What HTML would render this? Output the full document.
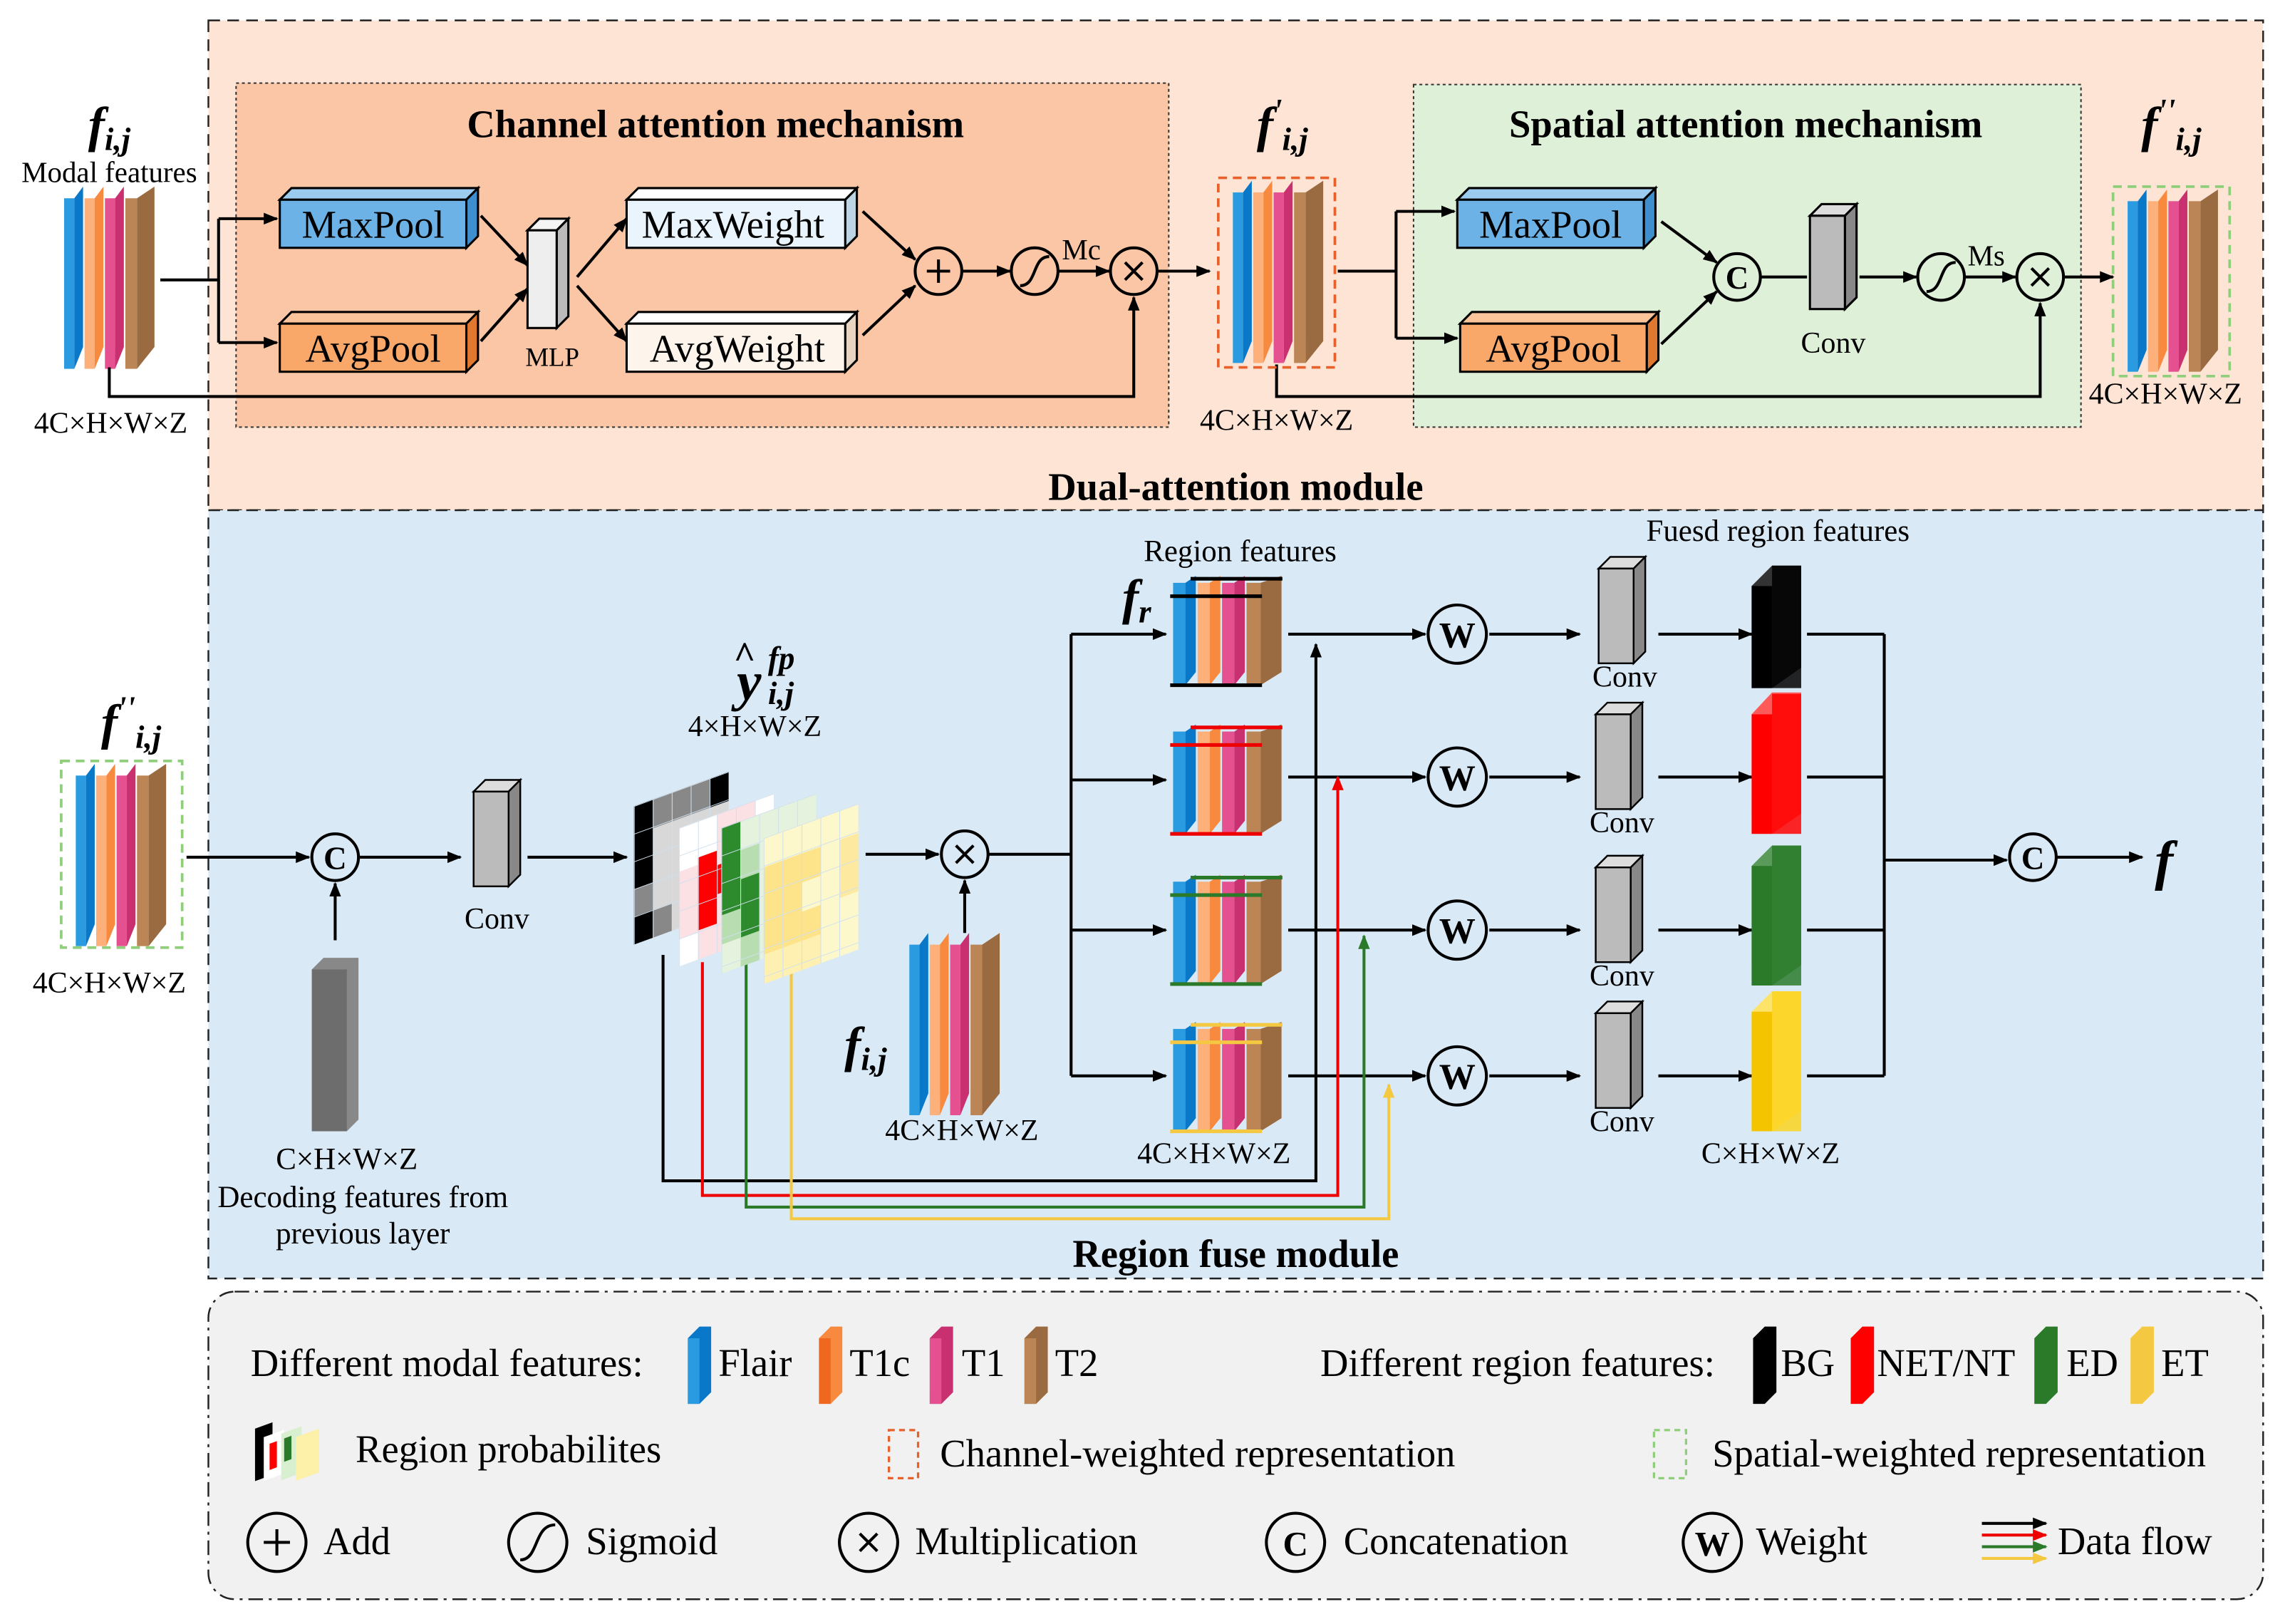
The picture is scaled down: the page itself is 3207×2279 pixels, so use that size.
<!DOCTYPE html>
<html><head><meta charset="utf-8"><style>
html,body{margin:0;padding:0;background:#fff}
svg{display:block}
text{font-family:"Liberation Serif",serif;fill:#000}
.b{font-weight:bold}
.bi{font-weight:bold;font-style:italic}
</style></head><body>
<svg width="3207" height="2279" viewBox="0 0 1568 1114" preserveAspectRatio="none" xmlns="http://www.w3.org/2000/svg">
<defs>
<marker id="ak" markerWidth="10" markerHeight="8" refX="9" refY="4" orient="auto" markerUnits="userSpaceOnUse"><path d="M0,0 L10,4 L0,8 z" fill="#000"/></marker>
<marker id="ar" markerWidth="10" markerHeight="8" refX="9" refY="4" orient="auto" markerUnits="userSpaceOnUse"><path d="M0,0 L10,4 L0,8 z" fill="#e00"/></marker>
<marker id="ag" markerWidth="10" markerHeight="8" refX="9" refY="4" orient="auto" markerUnits="userSpaceOnUse"><path d="M0,0 L10,4 L0,8 z" fill="#2a7a2a"/></marker>
<marker id="ay" markerWidth="10" markerHeight="8" refX="9" refY="4" orient="auto" markerUnits="userSpaceOnUse"><path d="M0,0 L10,4 L0,8 z" fill="#f5c842"/></marker>
<g id="stk">
 <rect x="0" y="8" width="7" height="117" fill="#2a9be0"/><polygon points="7,8 13,0 13,110 7,125" fill="#0a78c8"/>
 <rect x="14" y="8" width="7" height="117" fill="#fdb07a"/><polygon points="21,8 27,0 27,110 21,125" fill="#f88a40"/>
 <rect x="28" y="8" width="7" height="117" fill="#e45090"/><polygon points="35,8 41,0 41,110 35,125" fill="#c83070"/>
 <rect x="42" y="8" width="8" height="117" fill="#bb8555"/><polygon points="50,8 62,0 62,110 50,125" fill="#9a6a40"/>
</g>
<pattern id="gp" width="13" height="19" patternUnits="userSpaceOnUse"><path d="M0,0 H13 M0,0 V19" stroke="#cfe0ee" stroke-width="1" fill="none"/></pattern>
<g id="sig"><circle cx="0" cy="0" r="16" fill="none" stroke="#000" stroke-width="2"/><path d="M-10,10 C2,10 -2,-10 10,-10" fill="none" stroke="#000" stroke-width="2"/></g>
</defs>

<rect x="143" y="14" width="1410" height="336" fill="#fde4d4" stroke="#222" stroke-width="1.2" stroke-dasharray="8,5"/>
<rect x="162" y="57" width="640" height="236" fill="#fbc6a6" stroke="#333" stroke-dasharray="2,2"/>
<rect x="970" y="58" width="458" height="235" fill="#def0d8" stroke="#333" stroke-dasharray="2,2"/>
<rect x="143" y="350" width="1410" height="527" fill="#d9e9f6" stroke="#222" stroke-width="1.2" stroke-dasharray="8,5"/>
<rect x="143" y="886" width="1410" height="211" rx="18" fill="#f1f1f1" stroke="#222" stroke-width="1.2" stroke-dasharray="10,4,2,4"/>

<!-- TOP -->
<text x="75" y="97" font-size="34" class="bi" text-anchor="middle">f<tspan font-size="22" dy="6">i,j</tspan></text>
<text x="75" y="125" font-size="20" text-anchor="middle">Modal features</text>
<use href="#stk" x="44" y="128"/>
<text x="76" y="297" font-size="20.5" text-anchor="middle">4C×H×W×Z</text>

<g stroke="#000" stroke-width="2" fill="none">
<path d="M110,192 H150"/>
<path d="M150,150 V235"/>
<path d="M150,150 H190" marker-end="url(#ak)"/>
<path d="M150,235 H190" marker-end="url(#ak)"/>
<path d="M75,252 V272 H778 V204" marker-end="url(#ak)"/>
<path d="M330,148 L362,182" marker-end="url(#ak)"/>
<path d="M330,234 L362,198" marker-end="url(#ak)"/>
<path d="M396,190 L430,150" marker-end="url(#ak)"/>
<path d="M396,196 L430,234" marker-end="url(#ak)"/>
<path d="M592,145 L628,178" marker-end="url(#ak)"/>
<path d="M592,230 L628,196" marker-end="url(#ak)"/>
<path d="M660,186 H693" marker-end="url(#ak)"/>
<path d="M726,186 H761" marker-end="url(#ak)"/>
<path d="M794,186 H830" marker-end="url(#ak)"/>
<path d="M918,186 H958 M958,145 V232"/>
<path d="M958,145 H998" marker-end="url(#ak)"/>
<path d="M958,232 H1000" marker-end="url(#ak)"/>
<path d="M876,250 V272 H1400 V208" marker-end="url(#ak)"/>
<path d="M1140,152 L1178,180" marker-end="url(#ak)"/>
<path d="M1140,236 L1178,200" marker-end="url(#ak)"/>
<path d="M1208,190 H1240"/>
<path d="M1276,190 H1315" marker-end="url(#ak)"/>
<path d="M1348,190 H1383" marker-end="url(#ak)"/>
<path d="M1416,190 H1450" marker-end="url(#ak)"/>
</g>

<g stroke="#000" stroke-width="1.5">
<polygon points="192,137 200,129 328,129 320,137" fill="#9bcbee"/><polygon points="320,137 328,129 328,162 320,170" fill="#3f8fcf"/><rect x="192" y="137" width="128" height="33" fill="#6cb2e6"/>
<polygon points="192,222 200,214 328,214 320,222" fill="#fcc49a"/><polygon points="320,222 328,214 328,247 320,255" fill="#e07830"/><rect x="192" y="222" width="128" height="33" fill="#f9a86a"/>
<polygon points="430,137 438,129 588,129 580,137" fill="#fff"/><polygon points="580,137 588,129 588,162 580,170" fill="#bcd4e4"/><rect x="430" y="137" width="150" height="33" fill="#e9f4fc"/>
<polygon points="430,222 438,214 588,214 580,222" fill="#fff"/><polygon points="580,222 588,214 588,247 580,255" fill="#e8d4c2"/><rect x="430" y="222" width="150" height="33" fill="#fdf4ec"/>
<polygon points="362,158 370,150 390,150 382,158" fill="#f4f4f4"/><polygon points="382,158 390,150 390,217 382,225" fill="#bbb"/><rect x="362" y="158" width="20" height="67" fill="#eee"/>
<polygon points="1000,137 1008,129 1136,129 1128,137" fill="#9bcbee"/><polygon points="1128,137 1136,129 1136,162 1128,170" fill="#3f8fcf"/><rect x="1000" y="137" width="128" height="33" fill="#6cb2e6"/>
<polygon points="1002,222 1010,214 1138,214 1130,222" fill="#fcc49a"/><polygon points="1130,222 1138,214 1138,247 1130,255" fill="#e07830"/><rect x="1002" y="222" width="128" height="33" fill="#f9a86a"/>
<polygon points="1242,148 1250,140 1274,140 1266,148" fill="#ddd"/><polygon points="1266,148 1274,140 1274,204 1266,212" fill="#888"/><rect x="1242" y="148" width="24" height="64" fill="#bbb"/>
</g>
<text x="256" y="163" font-size="26.7" text-anchor="middle">MaxPool</text>
<text x="256" y="248" font-size="26.7" text-anchor="middle">AvgPool</text>
<text x="503" y="163" font-size="26.7" text-anchor="middle">MaxWeight</text>
<text x="506" y="248" font-size="26.7" text-anchor="middle">AvgWeight</text>
<text x="379" y="251" font-size="18" text-anchor="middle">MLP</text>
<text x="1064" y="163" font-size="26.7" text-anchor="middle">MaxPool</text>
<text x="1066" y="248" font-size="26.7" text-anchor="middle">AvgPool</text>
<text x="1258" y="242" font-size="20.5" text-anchor="middle">Conv</text>

<g stroke="#000" stroke-width="2" fill="none">
<circle cx="644" cy="186" r="16"/><path d="M636,186 H652 M644,178 V194"/>
<circle cx="778" cy="186" r="16"/><path d="M772,180 L784,192 M784,180 L772,192"/>
<circle cx="1400" cy="190" r="16"/><path d="M1394,184 L1406,196 M1406,184 L1394,196"/>
<circle cx="1192" cy="190" r="16"/>
</g>
<text x="1192" y="198" font-size="22" class="b" text-anchor="middle">C</text>
<use href="#sig" x="710" y="186"/>
<use href="#sig" x="1332" y="190"/>
<text x="742" y="178" font-size="20" text-anchor="middle">Mc</text>
<text x="1363" y="182" font-size="20" text-anchor="middle">Ms</text>

<text x="880" y="97" font-size="34" class="bi" text-anchor="middle">f<tspan font-size="22" dy="-14">'</tspan><tspan font-size="22" dy="20">i,j</tspan></text>
<rect x="836" y="122" width="80" height="130" fill="none" stroke="#e8602a" stroke-width="1.8" stroke-dasharray="6,4"/>
<use href="#stk" x="846" y="124"/>
<text x="876" y="295" font-size="20.5" text-anchor="middle">4C×H×W×Z</text>

<text x="1490" y="97" font-size="34" class="bi" text-anchor="middle">f<tspan font-size="22" dy="-14">''</tspan><tspan font-size="22" dy="20">i,j</tspan></text>
<rect x="1450" y="128" width="80" height="130" fill="none" stroke="#8fce7a" stroke-width="1.8" stroke-dasharray="6,4"/>
<use href="#stk" x="1460" y="130"/>
<text x="1486" y="277" font-size="20.5" text-anchor="middle">4C×H×W×Z</text>

<text x="491" y="94" font-size="26.7" class="b" text-anchor="middle">Channel attention mechanism</text>
<text x="1198" y="94" font-size="26.7" class="b" text-anchor="middle">Spatial attention mechanism</text>
<text x="848" y="343" font-size="26.7" class="b" text-anchor="middle">Dual-attention module</text>

<!-- BOTTOM -->
<text x="90" y="507" font-size="34" class="bi" text-anchor="middle">f<tspan font-size="22" dy="-14">''</tspan><tspan font-size="22" dy="20">i,j</tspan></text>
<rect x="42" y="522" width="83" height="128" fill="none" stroke="#8fce7a" stroke-width="1.8" stroke-dasharray="6,4"/>
<use href="#stk" x="52" y="524"/>
<text x="75" y="681" font-size="20.5" text-anchor="middle">4C×H×W×Z</text>

<g stroke="#000" stroke-width="2" fill="none">
<path d="M128,588 H212" marker-end="url(#ak)"/>
<path d="M230,645 V606" marker-end="url(#ak)"/>
<circle cx="230" cy="588" r="16"/>
<path d="M246,588 H316" marker-end="url(#ak)"/>
<path d="M362,588 H430" marker-end="url(#ak)"/>
<path d="M594,586 H644" marker-end="url(#ak)"/>
<circle cx="662" cy="586" r="16"/><path d="M656,580 L668,592 M668,580 L656,592"/>
<path d="M662,640 V604" marker-end="url(#ak)"/>
<path d="M678,586 H735 M735,435 V738"/>
<path d="M735,435 H800" marker-end="url(#ak)"/>
<path d="M735,535 H800" marker-end="url(#ak)"/>
<path d="M735,638 H800" marker-end="url(#ak)"/>
<path d="M735,738 H800" marker-end="url(#ak)"/>
<path d="M884,435 H978" marker-end="url(#ak)"/>
<path d="M884,533 H978" marker-end="url(#ak)"/>
<path d="M884,638 H978" marker-end="url(#ak)"/>
<path d="M884,738 H978" marker-end="url(#ak)"/>
<path d="M1022,435 H1084" marker-end="url(#ak)"/>
<path d="M1022,533 H1084" marker-end="url(#ak)"/>
<path d="M1022,638 H1084" marker-end="url(#ak)"/>
<path d="M1022,738 H1084" marker-end="url(#ak)"/>
<path d="M1138,435 H1202" marker-end="url(#ak)"/>
<path d="M1138,533 H1202" marker-end="url(#ak)"/>
<path d="M1138,638 H1202" marker-end="url(#ak)"/>
<path d="M1138,738 H1202" marker-end="url(#ak)"/>
<path d="M1240,435 H1293 M1240,533 H1293 M1240,638 H1293 M1240,738 H1293 M1293,435 V738"/>
<path d="M1293,590 H1377" marker-end="url(#ak)"/>
<circle cx="1395" cy="588" r="16"/>
<path d="M1411,588 H1470" marker-end="url(#ak)"/>
<path d="M455,655 V810 H903 V442" marker-end="url(#ak)"/>
</g>
<path d="M482,660 V820 H918 V533" stroke="#e00" stroke-width="2" fill="none" marker-end="url(#ar)"/>
<path d="M512,645 V828 H936 V642" stroke="#2a7a2a" stroke-width="2" fill="none" marker-end="url(#ag)"/>
<path d="M543,650 V836 H953 V744" stroke="#f5c842" stroke-width="2" fill="none" marker-end="url(#ay)"/>
<text x="230" y="596" font-size="22" class="b" text-anchor="middle">C</text>
<text x="1395" y="596" font-size="22" class="b" text-anchor="middle">C</text>

<polygon points="214,665 222,657 246,657 246,768 238,776 214,776" fill="#888"/>
<rect x="214" y="665" width="24" height="111" fill="#6d6d6d"/>
<text x="238" y="802" font-size="21" text-anchor="middle">C×H×W×Z</text>
<text x="249" y="828" font-size="21" text-anchor="middle">Decoding features from</text>
<text x="249" y="853" font-size="21" text-anchor="middle">previous layer</text>

<g stroke="#000" stroke-width="1.2">
<polygon points="325,543 333,535 357,535 349,543" fill="#ddd"/><polygon points="349,543 357,535 357,600 349,608" fill="#888"/><rect x="325" y="543" width="24" height="65" fill="#bbb"/>
</g>
<text x="341" y="637" font-size="20.5" text-anchor="middle">Conv</text>

<g transform="translate(435,553) skewY(-20)">
 <rect width="65" height="95" fill="#d8d8d8"/>
 <rect width="13" height="95" fill="#000"/><rect x="13" width="13" height="20" fill="#888"/><rect x="26" width="26" height="20" fill="#888"/><rect x="52" width="13" height="20" fill="#000"/><rect x="13" y="76" width="13" height="19" fill="#888"/><rect x="0" y="57" width="13" height="19" fill="#888"/>
 <rect width="65" height="95" fill="url(#gp)"/>
</g>
<g transform="translate(466,568) skewY(-20)">
 <rect width="65" height="95" fill="#fbe0e4"/>
 <rect width="26" height="30" fill="#fff"/><rect x="13" y="25" width="13" height="50" fill="#f00"/><rect x="26" y="35" width="13" height="20" fill="#f00"/><rect x="0" y="76" width="13" height="19" fill="#fff"/><rect x="52" width="13" height="30" fill="#fff"/>
 <rect width="65" height="95" fill="url(#gp)"/>
</g>
<g transform="translate(495,568) skewY(-20)">
 <rect width="65" height="100" fill="#e4f2de"/>
 <rect width="13" height="60" fill="#2d8a2d"/><rect x="13" y="40" width="13" height="40" fill="#2d8a2d"/><rect x="13" y="20" width="13" height="20" fill="#b8ddb0"/><rect x="0" y="60" width="13" height="20" fill="#b8ddb0"/><rect x="13" y="80" width="13" height="20" fill="#b8ddb0"/>
 <rect width="65" height="100" fill="url(#gp)"/>
</g>
<g transform="translate(524,575) skewY(-20)">
 <rect width="65" height="100" fill="#fdf8cc"/>
 <rect y="20" width="39" height="60" fill="#fde38a"/><rect x="26" y="40" width="13" height="20" fill="#fdf8cc"/><rect x="52" y="20" width="13" height="40" fill="#fde9a0"/><rect y="80" width="39" height="20" fill="#fef0b0"/>
 <rect width="65" height="100" fill="url(#gp)"/>
</g>
<text x="514" y="480" font-size="38" class="bi" text-anchor="middle">y</text>
<text x="511" y="458" font-size="26" class="b" text-anchor="middle">^</text>
<text x="527" y="459" font-size="22" class="bi">fp</text>
<text x="527" y="483" font-size="22" class="bi">i,j</text>
<text x="518" y="505" font-size="20.5" text-anchor="middle">4×H×W×Z</text>

<use href="#stk" x="624" y="640"/>
<text x="594" y="728" font-size="34" class="bi" text-anchor="middle">f<tspan font-size="22" dy="6">i,j</tspan></text>
<text x="660" y="782" font-size="20.5" text-anchor="middle">4C×H×W×Z</text>

<g transform="translate(805,395) scale(1.2,0.6)"><use href="#stk"/></g>
<g transform="translate(805,497) scale(1.2,0.6)"><use href="#stk"/></g>
<g transform="translate(805,600) scale(1.2,0.6)"><use href="#stk"/></g>
<g transform="translate(805,701) scale(1.2,0.6)"><use href="#stk"/></g>
<g stroke-width="2.5">
<path d="M803,409 H866 M817,397 H880 M803,470 H866" stroke="#000"/>
<path d="M803,511 H866 M817,499 H880 M803,572 H866" stroke="#e00"/>
<path d="M803,614 H866 M817,602 H880 M803,675 H866" stroke="#2a7a2a"/>
<path d="M803,715 H866 M817,703 H880 M803,776 H866" stroke="#f5c842"/>
</g>
<text x="780" y="421" font-size="34" class="bi" text-anchor="middle">f<tspan font-size="22" dy="6">r</tspan></text>
<text x="851" y="385" font-size="21" text-anchor="middle">Region features</text>
<text x="833" y="798" font-size="20.5" text-anchor="middle">4C×H×W×Z</text>

<g stroke="#000" stroke-width="2" fill="none">
<circle cx="1000" cy="435" r="20"/><circle cx="1000" cy="533" r="20"/><circle cx="1000" cy="638" r="20"/><circle cx="1000" cy="738" r="20"/>
</g>
<text x="1000" y="444" class="b" text-anchor="middle" font-size="25">W</text>
<text x="1000" y="542" class="b" text-anchor="middle" font-size="25">W</text>
<text x="1000" y="647" class="b" text-anchor="middle" font-size="25">W</text>
<text x="1000" y="747" class="b" text-anchor="middle" font-size="25">W</text>

<g stroke="#000" stroke-width="1.2">
<polygon points="1097,390 1105,382 1129,382 1121,390" fill="#ddd"/><polygon points="1121,390 1129,382 1129,447 1121,455" fill="#888"/><rect x="1097" y="390" width="24" height="65" fill="#bbb"/>
<polygon points="1095,490 1103,482 1127,482 1119,490" fill="#ddd"/><polygon points="1119,490 1127,482 1127,547 1119,555" fill="#888"/><rect x="1095" y="490" width="24" height="65" fill="#bbb"/>
<polygon points="1095,595 1103,587 1127,587 1119,595" fill="#ddd"/><polygon points="1119,595 1127,587 1127,652 1119,660" fill="#888"/><rect x="1095" y="595" width="24" height="65" fill="#bbb"/>
<polygon points="1095,695 1103,687 1127,687 1119,695" fill="#ddd"/><polygon points="1119,695 1127,687 1127,752 1119,760" fill="#888"/><rect x="1095" y="695" width="24" height="65" fill="#bbb"/>
</g>
<text x="1115" y="471" font-size="20.5" text-anchor="middle">Conv</text>
<text x="1113" y="571" font-size="20.5" text-anchor="middle">Conv</text>
<text x="1113" y="676" font-size="20.5" text-anchor="middle">Conv</text>
<text x="1113" y="776" font-size="20.5" text-anchor="middle">Conv</text>

<polygon points="1202,402 1216,388 1236,388 1236,458 1216,472 1202,472" fill="#333"/><rect x="1202" y="402" width="14" height="70" fill="#000"/>
<polygon points="1202,490 1216,475 1236,475 1236,558 1216,572 1202,572" fill="#ff5a5a"/><rect x="1202" y="490" width="14" height="82" fill="#f00"/>
<polygon points="1202,594 1216,580 1236,580 1236,662 1216,676 1202,676" fill="#5a9a5a"/><rect x="1202" y="594" width="14" height="82" fill="#2a7a2a"/>
<polygon points="1202,694 1216,680 1236,680 1236,762 1216,776 1202,776" fill="#fde36a"/><rect x="1202" y="694" width="14" height="82" fill="#f5c400"/>
<rect x="1216" y="388" width="20" height="84" fill="#000" opacity="0.85"/>
<rect x="1216" y="476" width="20" height="96" fill="#f00" opacity="0.85"/>
<rect x="1216" y="580" width="20" height="96" fill="#2a7a2a" opacity="0.85"/>
<rect x="1216" y="680" width="20" height="96" fill="#fcd31e" opacity="0.85"/>
<text x="1220" y="371" font-size="21" text-anchor="middle">Fuesd region features</text>
<text x="1215" y="798" font-size="20.5" text-anchor="middle">C×H×W×Z</text>
<text x="1485" y="603" font-size="38" class="bi" text-anchor="middle">f</text>
<text x="848" y="869" font-size="26.7" class="b" text-anchor="middle">Region fuse module</text>

<!-- LEGEND -->
<g font-size="26.7">
<text x="172" y="944">Different modal features:</text>
<polygon points="472,918 480,910 488,910 488,955 480,963 472,963" fill="#0a78c8"/><rect x="472" y="918" width="8" height="45" fill="#2a9be0"/>
<text x="493" y="944">Flair</text>
<polygon points="562,918 570,910 578,910 578,955 570,963 562,963" fill="#f88a40"/><rect x="562" y="918" width="8" height="45" fill="#f06820"/>
<text x="583" y="944">T1c</text>
<polygon points="638,918 646,910 654,910 654,955 646,963 638,963" fill="#c83070"/><rect x="638" y="918" width="8" height="45" fill="#e45090"/>
<text x="660" y="944">T1</text>
<polygon points="703,918 711,910 719,910 719,955 711,963 703,963" fill="#9a6a40"/><rect x="703" y="918" width="8" height="45" fill="#bb8555"/>
<text x="724" y="944">T2</text>
<text x="906" y="944">Different region features:</text>
<polygon points="1203,918 1211,910 1219,910 1219,955 1211,963 1203,963" fill="#000"/>
<text x="1222" y="944">BG</text>
<polygon points="1270,918 1278,910 1286,910 1286,955 1278,963 1270,963" fill="#f00"/>
<text x="1288" y="944">NET/NT</text>
<polygon points="1396,918 1404,910 1412,910 1412,955 1404,963 1396,963" fill="#2a7a2a"/>
<text x="1418" y="944">ED</text>
<polygon points="1462,918 1470,910 1478,910 1478,955 1470,963 1462,963" fill="#f5c842"/>
<text x="1483" y="944">ET</text>

<g transform="translate(175,980) skewY(-20)"><rect width="12" height="36" fill="#000"/><rect x="6" y="8" width="14" height="30" fill="#fff"/><rect x="10" y="14" width="5" height="18" fill="#f00"/><rect x="18" y="10" width="14" height="32" fill="#d8efd0"/><rect x="20" y="14" width="5" height="16" fill="#2a7a2a"/><rect x="28" y="16" width="16" height="30" fill="#fdf0a8"/></g>
<text x="244" y="1003">Region probabilites</text>
<rect x="610" y="981" width="20" height="33" fill="none" stroke="#e8602a" stroke-width="1.6" stroke-dasharray="4,3"/>
<text x="645" y="1006">Channel-weighted representation</text>
<rect x="1135" y="981" width="22" height="33" fill="none" stroke="#8fce7a" stroke-width="1.6" stroke-dasharray="4,3"/>
<text x="1175" y="1006">Spatial-weighted representation</text>

<text x="222" y="1066">Add</text>
<text x="402" y="1066">Sigmoid</text>
<text x="628" y="1066">Multiplication</text>
<text x="922" y="1066">Concatenation</text>
<text x="1205" y="1066">Weight</text>
<text x="1412" y="1066">Data flow</text>
</g>
<g stroke="#000" stroke-width="2" fill="none">
<circle cx="190" cy="1058" r="20"/><path d="M181,1058 H199 M190,1049 V1067"/>
<circle cx="369" cy="1058" r="20"/><path d="M357,1070 C370,1070 366,1046 381,1046"/>
<circle cx="596" cy="1058" r="20"/><path d="M590,1052 L602,1064 M602,1052 L590,1064"/>
<circle cx="889" cy="1058" r="20"/>
<circle cx="1175" cy="1058" r="20"/>
<path d="M1360,1045 H1404" marker-end="url(#ak)"/>
</g>
<text x="889" y="1067" font-size="24" class="b" text-anchor="middle">C</text>
<text x="1175" y="1067" font-size="24" class="b" text-anchor="middle">W</text>
<path d="M1360,1053 H1404" stroke="#e00" stroke-width="2" marker-end="url(#ar)"/>
<path d="M1360,1061 H1404" stroke="#2a7a2a" stroke-width="2" marker-end="url(#ag)"/>
<path d="M1360,1069 H1404" stroke="#f5c842" stroke-width="2" marker-end="url(#ay)"/>
</svg>
</body></html>
